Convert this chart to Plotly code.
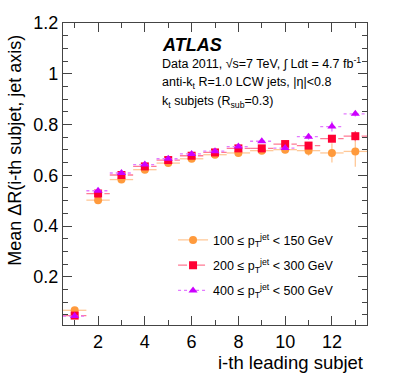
import plotly.graph_objects as go

# i-th leading subjet
subjet = [1, 2, 3, 4, 5, 6, 7, 8, 9, 10, 11, 12, 13]

# mean dR(i-th subjet, jet axis) for three pT bins
dr_100_150 = [0.068, 0.502, 0.583, 0.622, 0.648, 0.665, 0.681, 0.688, 0.697, 0.701, 0.697, 0.688, 0.694]
err_100_150 = [0.004, 0.004, 0.004, 0.004, 0.004, 0.005, 0.006, 0.008, 0.010, 0.014, 0.020, 0.038, 0.060]

dr_200_300 = [0.047, 0.528, 0.601, 0.635, 0.660, 0.677, 0.690, 0.706, 0.706, 0.723, 0.717, 0.744, 0.754]
err_200_300 = [0.003, 0.003, 0.003, 0.003, 0.003, 0.004, 0.004, 0.005, 0.006, 0.008, 0.010, 0.014, 0.020]

dr_400_500 = [0.045, 0.539, 0.609, 0.642, 0.665, 0.684, 0.695, 0.713, 0.734, 0.707, 0.752, 0.792, 0.842]
err_400_500 = [0.003, 0.003, 0.003, 0.003, 0.003, 0.004, 0.004, 0.005, 0.006, 0.008, 0.012, 0.020, 0.010]

bin_half = 0.5

series = [
    ("100 \u2264 p<sub>T</sub><sup>jet</sup> < 150 GeV", dr_100_150, err_100_150,
     "#FF9A3C", "#FFC897", "solid", "circle"),
    ("200 \u2264 p<sub>T</sub><sup>jet</sup> < 300 GeV", dr_200_300, err_200_300,
     "#FF0033", "#FF7A94", "dash", "square"),
    ("400 \u2264 p<sub>T</sub><sup>jet</sup> < 500 GeV", dr_400_500, err_400_500,
     "#CC00FF", "#E37AFF", "dot", "triangle-up"),
]

fig = go.Figure()

for i, (name, vals, errs, mcol, lcol, dash, sym) in enumerate(series):
    # horizontal bin-width bars
    xs, ys = [], []
    for x, y in zip(subjet, vals):
        xs += [x - bin_half, x + bin_half, None]
        ys += [y, y, None]
    fig.add_trace(go.Scatter(x=xs, y=ys, mode="lines", showlegend=False,
                             line=dict(color=lcol, width=1.3, dash=dash), hoverinfo="skip"))
    # points with vertical errors
    fig.add_trace(go.Scatter(x=subjet, y=vals, mode="markers", showlegend=False, name=name,
                             marker=dict(color=mcol, symbol=sym, size=8),
                             error_y=dict(type="data", array=errs, color=lcol, thickness=1.3, width=0)))
    # legend entry
    fig.add_trace(go.Scatter(x=[None], y=[None], mode="lines+markers", name=name,
                             legendgroup="g%d" % i,
                             line=dict(color=lcol, width=1.3, dash=dash),
                             marker=dict(color=mcol, symbol=sym, size=8)))

axis_common = dict(showline=True, linecolor="#444", linewidth=1.2, mirror="ticks",
                   ticks="inside", ticklen=9, tickcolor="#444", showgrid=False, zeroline=False,
                   tickfont=dict(size=18, color="black"))

fig.update_xaxes(range=[0.5, 13.5], dtick=2, tick0=0,
                 minor=dict(ticks="inside", ticklen=5, dtick=1, tickcolor="#444"), **axis_common)
fig.update_yaxes(range=[0.01, 1.2], dtick=0.2, tick0=0,
                 minor=dict(ticks="inside", ticklen=5, dtick=0.05, tickcolor="#444"), **axis_common)

fig.update_layout(
    width=399, height=383,
    margin=dict(l=63, r=32, t=23, b=58),
    paper_bgcolor="white", plot_bgcolor="white",
    font=dict(family="Liberation Sans, Arial, sans-serif", color="black"),
    legend=dict(x=0.362, y=0.33, xanchor="left", yanchor="top", bgcolor="rgba(0,0,0,0)",
                font=dict(size=12.5), tracegroupgap=6, itemwidth=30),
)

fig.add_annotation(text="<b><i>ATLAS</i></b>", x=0.319, y=0.927, xref="paper", yref="paper",
                   xanchor="left", yanchor="middle", showarrow=False, font=dict(size=18))
fig.add_annotation(text="Data 2011, \u221as=7 TeV, \u222b Ldt = 4.7 fb<sup>-1</sup>",
                   x=0.319, y=0.868, xref="paper", yref="paper",
                   xanchor="left", yanchor="middle", showarrow=False, font=dict(size=12.5))
fig.add_annotation(text="anti-k<sub>t</sub> R=1.0 LCW jets, |\u03b7|<0.8",
                   x=0.319, y=0.801, xref="paper", yref="paper",
                   xanchor="left", yanchor="middle", showarrow=False, font=dict(size=12.5))
fig.add_annotation(text="k<sub>t</sub> subjets (R<sub>sub</sub>=0.3)",
                   x=0.319, y=0.738, xref="paper", yref="paper",
                   xanchor="left", yanchor="middle", showarrow=False, font=dict(size=12.5))

fig.add_annotation(text="i-th leading subjet", x=0.993, y=-0.125, xref="paper", yref="paper",
                   xanchor="right", yanchor="middle", showarrow=False, font=dict(size=18.5))
fig.add_annotation(text="Mean \u0394R(i-th subjet, jet axis)", x=-0.158, y=0.58,
                   xref="paper", yref="paper", textangle=-90,
                   xanchor="center", yanchor="middle", showarrow=False, font=dict(size=18))

# drop the default page margin so the figure fills the window
fig.write_html("out.html", config={"displayModeBar": False},
               post_script="document.body.style.margin='0';")
